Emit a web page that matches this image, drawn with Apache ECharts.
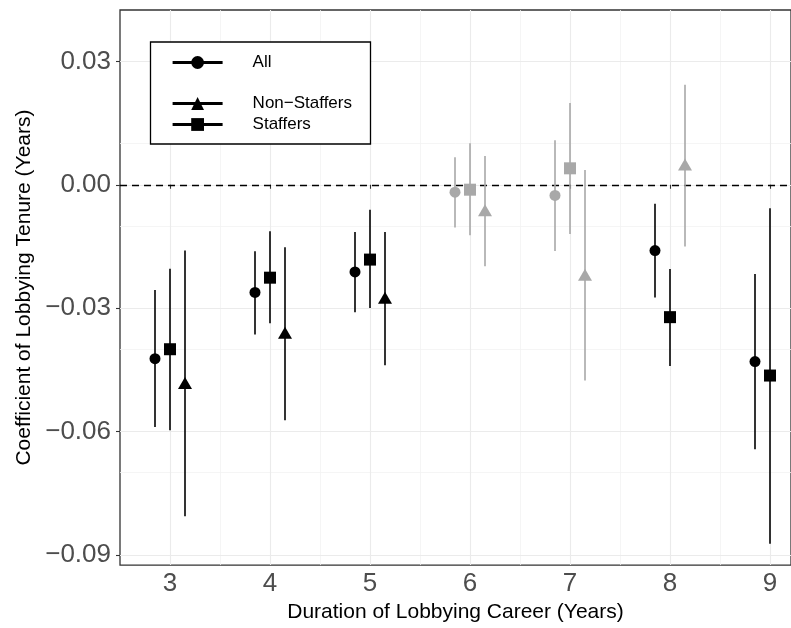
<!DOCTYPE html>
<html>
<head>
    <meta charset="utf-8">
    <title>Coefficient of Lobbying Tenure</title>
    <script src="https://cdn.jsdelivr.net/npm/echarts@6/dist/echarts.min.js"></script>
    <style>
        html, body { margin: 0; padding: 0; background: #fff; }
        #main { width: 791px; height: 628px; }
    </style>
</head>
<body>
<div id="main"></div>
<script type="text/javascript">
    // values
    var years = [3, 4, 5, 6, 7, 8, 9];
    var allEst = [-0.0423, -0.0262, -0.0212, -0.0018, -0.0026, -0.0160, -0.0430];
    var allLo  = [-0.0589, -0.0364, -0.0310, -0.0104, -0.0161, -0.0274, -0.0643];
    var allHi  = [-0.0256, -0.0162, -0.0115, 0.0067, 0.0108, -0.0046, -0.0217];
    var stafEst = [-0.0400, -0.0226, -0.0182, -0.0012, 0.0040, -0.0322, -0.0464];
    var stafLo  = [-0.0597, -0.0337, -0.0300, -0.0123, -0.0120, -0.0441, -0.0873];
    var stafHi  = [-0.0204, -0.0113, -0.0061, 0.0101, 0.0199, -0.0205, -0.0057];
    var nonEst = [-0.0482, -0.0360, -0.0275, -0.0062, -0.0219, 0.0049, null];
    var nonLo  = [-0.0806, -0.0573, -0.0439, -0.0198, -0.0476, -0.0150, null];
    var nonHi  = [-0.0160, -0.0152, -0.0115, 0.0070, 0.0036, 0.0243, null];

    var xTicks = [3, 4, 5, 6, 7, 8, 9];
    var xMinor = [3.5, 4.5, 5.5, 6.5, 7.5, 8.5];
    var yTicks = [-0.09, -0.06, -0.03, 0, 0.03];
    var yMinor = [-0.075, -0.045, -0.015, 0.015];

    var FONT = '"Liberation Sans", Arial, sans-serif';
    var BLACK = '#000000', GREY = '#a8a8a8';

    // grey when the interval covers zero
    function ciColor(lo, hi) {
        return (lo < 0 && hi > 0) ? GREY : BLACK;
    }

    function build(est, lo, hi, shift) {
        var pts = [], bars = [];
        for (var i = 0; i < years.length; i++) {
            if (est[i] === null) continue;
            pts.push([years[i] + shift, est[i], lo[i], hi[i]]);
            bars.push([years[i] + shift, lo[i], hi[i]]);
        }
        return {pts: pts, bars: bars};
    }

    var groups = [
        {name: 'All', d: build(allEst, allLo, allHi, -0.15), symbol: 'circle', size: 11},
        {name: 'Staffers', d: build(stafEst, stafLo, stafHi, 0), symbol: 'rect', size: 12},
        {name: 'Non\u2212Staffers', d: build(nonEst, nonLo, nonHi, 0.15), symbol: 'triangle', size: [14, 12]}
    ];

    function ciRender(params, api) {
        var lo = api.value(1), hi = api.value(2);
        var p1 = api.coord([api.value(0), lo]);
        var p2 = api.coord([api.value(0), hi]);
        return {
            type: 'line',
            shape: {x1: p1[0], y1: p1[1], x2: p2[0], y2: p2[1]},
            style: {stroke: ciColor(lo, hi), lineWidth: 1.6}
        };
    }

    function gridLines(vals, key, color, width) {
        return vals.map(function (v) {
            var o = {lineStyle: {color: color, width: width, type: 'solid'}};
            o[key] = v;
            return o;
        });
    }

    var series = [
        {
            name: 'grid',
            type: 'line',
            data: [],
            silent: true,
            z: 0,
            markLine: {
                silent: true,
                z: 0,
                symbol: ['none', 'none'],
                label: {show: false},
                animation: false,
                data: [].concat(
                    gridLines(yMinor, 'yAxis', '#f2f2f2', 0.8),
                    gridLines(xMinor, 'xAxis', '#f2f2f2', 0.8),
                    gridLines(yTicks, 'yAxis', '#ebebeb', 1.1),
                    gridLines(xTicks, 'xAxis', '#ebebeb', 1.1)
                )
            }
        },
        {
            name: 'zero',
            type: 'line',
            data: [],
            silent: true,
            z: 1,
            markLine: {
                silent: true,
                z: 1,
                symbol: ['none', 'none'],
                label: {show: false},
                animation: false,
                data: [{yAxis: 0, lineStyle: {color: '#000', width: 1.3, type: [7, 5]}}]
            }
        }
    ];

    groups.forEach(function (g) {
        series.push({
            name: g.name + ' CI',
            type: 'custom',
            renderItem: ciRender,
            encode: {x: 0, y: [1, 2]},
            data: g.d.bars,
            z: 3,
            silent: true
        });
        series.push({
            name: g.name + ' est',
            type: 'scatter',
            data: g.d.pts,
            symbol: g.symbol,
            symbolSize: g.size,
            itemStyle: {
                opacity: 1,
                color: function (p) { return ciColor(p.data[2], p.data[3]); }
            },
            z: 4,
            silent: true
        });
        // legend entry only
        series.push({
            name: g.name,
            type: 'line',
            data: [],
            symbol: g.symbol,
            symbolSize: g.size,
            lineStyle: {color: BLACK, width: 3},
            itemStyle: {color: BLACK}
        });
    });

    function legendAt(name, top) {
        return {
            data: [name],
            left: 171,
            top: top - 8,
            padding: 0,
            z: 8,
            itemWidth: 50,
            itemHeight: 16,
            selectedMode: false,
            lineStyle: {width: 3.2, color: BLACK},
            textStyle: {fontFamily: FONT, fontSize: 17, color: '#000', padding: [0, 0, 0, 25]}
        };
    }

    var myChart = echarts.init(document.getElementById('main'), null, {renderer: 'canvas'});
    var option = {
        backgroundColor: '#fff',
        animation: false,
        textStyle: {fontFamily: FONT},
        grid: {
            left: 120, right: -2, top: 10, bottom: 62,
            show: true, borderColor: '#333', borderWidth: 1.3, backgroundColor: 'transparent'
        },
        legend: [legendAt('All', 62), legendAt('Non\u2212Staffers', 103), legendAt('Staffers', 124)],
        graphic: [{
            type: 'rect',
            shape: {x: 150.5, y: 42, width: 220, height: 102},
            style: {fill: '#fff', stroke: '#000', lineWidth: 1.3},
            z: 6
        }],
        xAxis: {
            type: 'value',
            min: 2.5,
            max: 9.21,
            name: 'Duration of Lobbying Career (Years)',
            nameLocation: 'middle',
            nameGap: 27,
            nameTextStyle: {fontFamily: FONT, fontSize: 21, color: '#000'},
            axisLine: {show: false},
            splitLine: {show: false},
            axisTick: {show: true, customValues: xTicks, length: 4, lineStyle: {color: '#333', width: 1.1}},
            axisLabel: {
                customValues: xTicks,
                fontFamily: FONT, fontSize: 26, color: '#4d4d4d', margin: 6,
                formatter: function (v) { return String(v); }
            }
        },
        yAxis: {
            type: 'value',
            min: -0.0925,
            max: 0.0425,
            name: 'Coefficient of Lobbying Tenure (Years)',
            nameLocation: 'middle',
            nameGap: 80,
            nameTextStyle: {fontFamily: FONT, fontSize: 21, color: '#000'},
            axisLine: {show: false},
            splitLine: {show: false},
            axisTick: {show: true, customValues: yTicks, length: 4, lineStyle: {color: '#333', width: 1.1}},
            axisLabel: {
                customValues: yTicks,
                fontFamily: FONT, fontSize: 26, color: '#4d4d4d', margin: 9,
                formatter: function (v) {
                    var s = Math.abs(v).toFixed(2);
                    return v < -1e-9 ? '\u2212' + s : s;
                }
            }
        },
        series: series
    };
    myChart.setOption(option);
</script>
</body>
</html>
